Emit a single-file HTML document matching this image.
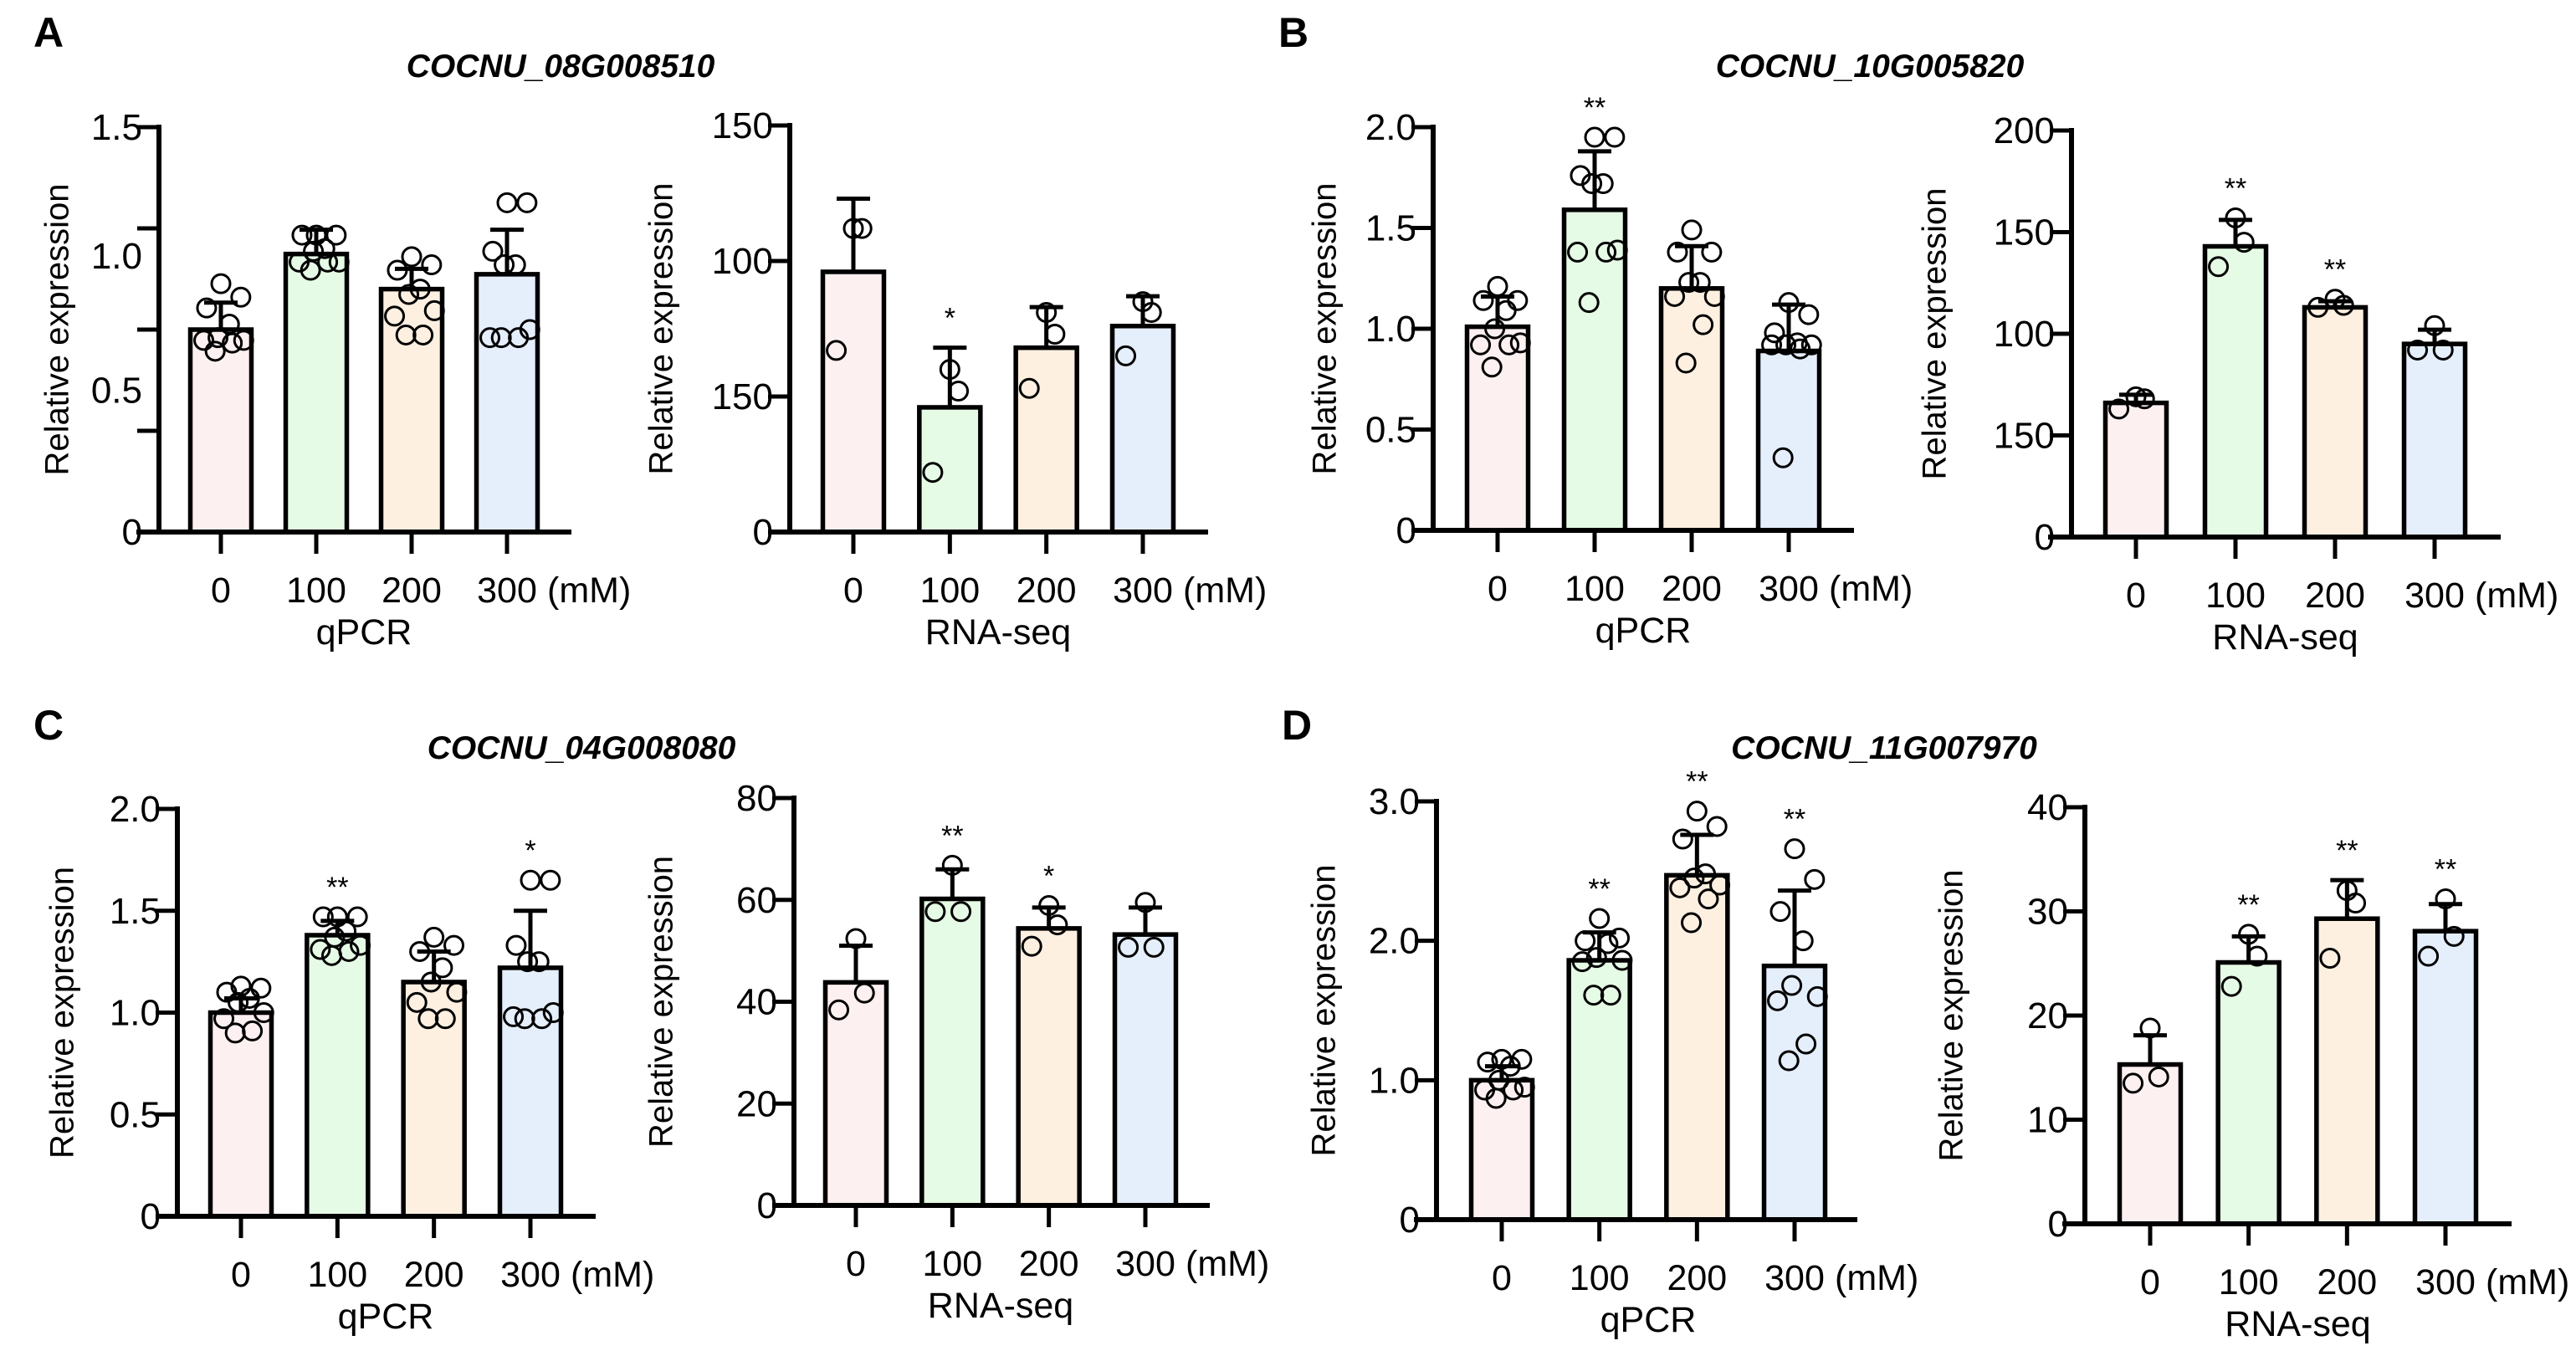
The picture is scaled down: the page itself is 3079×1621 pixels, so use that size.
<!DOCTYPE html>
<html><head><meta charset="utf-8">
<style>
html,body{margin:0;padding:0;background:#fff;}
svg{display:block;font-family:"Liberation Sans",Arial,sans-serif;}
</style></head>
<body>
<svg id="fig" width="3079" height="1621" viewBox="0 0 3079 1621" xmlns="http://www.w3.org/2000/svg">
<text x="40" y="56" font-size="50" font-weight="bold">A</text>
<text x="1528" y="56" font-size="50" font-weight="bold">B</text>
<text x="40" y="884" font-size="50" font-weight="bold">C</text>
<text x="1532" y="884" font-size="50" font-weight="bold">D</text>
<text x="670" y="92" font-size="39" font-weight="bold" font-style="italic" text-anchor="middle">COCNU_08G008510</text>
<text x="2235" y="92" font-size="39" font-weight="bold" font-style="italic" text-anchor="middle">COCNU_10G005820</text>
<text x="695" y="907" font-size="39" font-weight="bold" font-style="italic" text-anchor="middle">COCNU_04G008080</text>
<text x="2252" y="907" font-size="39" font-weight="bold" font-style="italic" text-anchor="middle">COCNU_11G007970</text>
</svg>
<script>
// ---- data ----
const categories = ["0","100","200","300"];
const aQMeans = [0.75,1.03,0.90,0.955];
const aQErr = [0.85,1.12,0.975,1.12];
const aQPts = [[0.92,0.87,0.83,0.77,0.72,0.71,0.71,0.70,0.67],[1.10,1.10,1.10,1.05,1.04,1.0,1.0,1.0,0.97],[1.02,0.99,0.97,0.90,0.88,0.82,0.80,0.73,0.73],[1.22,1.22,1.04,0.99,0.99,0.75,0.72,0.72,0.72]];
const aQStars = ["","","",""];
const aQTicks = [0,0.375,0.75,1.125,1.5];
const aQLabelVals = [0,0.525,1.023,1.5];
const aQLabels = ["0","0.5","1.0","1.5"];

const aRMeans = [96,46,68,76];
const aRErr = [123,68,83,87];
const aRPts = [[112,112,67],[60,52,22],[81,73,53],[85,81,65]];
const aRStars = ["","*","",""];
const aRTicks = [0,50,100,150];
const aRLabels = ["0","150","100","150"];

const bQMeans = [1.01,1.59,1.20,0.89];
const bQErr = [1.16,1.88,1.41,1.12];
const bQPts = [[1.21,1.14,1.14,1.09,1.0,0.93,0.92,0.92,0.81],[1.95,1.95,1.76,1.72,1.72,1.39,1.38,1.38,1.13],[1.49,1.38,1.38,1.23,1.23,1.16,1.16,1.02,0.83],[1.13,1.07,0.98,0.93,0.92,0.92,0.92,0.90,0.36]];
const bQStars = ["","**","",""];
const bQTicks = [0,0.5,1.0,1.5,2.0];
const bQLabels = ["0","0.5","1.0","1.5","2.0"];

const bRMeans = [66,143,113,95];
const bRErr = [70,156,116,102];
const bRPts = [[69,68,63],[157,145,133],[117,114,113],[104,92,92]];
const bRStars = ["","**","**",""];
const bRTicks = [0,50,100,150,200];
const bRLabels = ["0","150","100","150","200"];

const cQMeans = [1.0,1.38,1.15,1.22];
const cQErr = [1.07,1.45,1.30,1.50];
const cQPts = [[1.13,1.12,1.10,1.07,1.05,1.0,0.97,0.91,0.90],[1.47,1.47,1.47,1.40,1.37,1.33,1.31,1.30,1.28],[1.37,1.33,1.30,1.22,1.15,1.10,1.05,0.97,0.97],[1.65,1.65,1.33,1.25,1.25,1.0,0.98,0.97,0.97]];
const cQStars = ["","**","","*"];
const cQTicks = [0,0.5,1.0,1.5,2.0];
const cQLabels = ["0","0.5","1.0","1.5","2.0"];

const cRMeans = [43.8,60.2,54.4,53.2];
const cRErr = [51,66,58.5,58.5];
const cRPts = [[52.4,41.7,38.4],[66.8,57.7,57.7],[58.9,55.1,50.9],[59.5,50.7,50.7]];
const cRStars = ["","**","*",""];
const cRTicks = [0,20,40,60,80];
const cRLabels = ["0","20","40","60","80"];

const dQMeans = [1.0,1.86,2.47,1.82];
const dQErr = [1.1,2.06,2.76,2.36];
const dQPts = [[1.15,1.15,1.13,1.1,1.0,0.95,0.93,0.93,0.87],[2.16,2.02,2.0,1.98,1.88,1.86,1.85,1.61,1.61],[2.93,2.82,2.73,2.48,2.45,2.40,2.38,2.30,2.13],[2.66,2.44,2.21,2.0,1.68,1.6,1.57,1.26,1.14]];
const dQStars = ["","**","**","**"];
const dQTicks = [0,1.0,2.0,3.0];
const dQLabels = ["0","1.0","2.0","3.0"];

const dRMeans = [15.3,25.1,29.3,28.1];
const dRErr = [18.1,27.6,33,30.7];
const dRPts = [[18.8,14.1,13.5],[27.8,25.7,22.8],[32,30.8,25.5],[31.2,27.6,25.7]];
const dRStars = ["","**","**","**"];
const dRTicks = [0,10,20,30,40];
const dRLabels = ["0","10","20","30","40"];

// ---- layout ----
const fills = ["#fdf0f1","#e6fbe6","#fdf0e1","#e5eefb"];
const NS = "http://www.w3.org/2000/svg";
const svg = document.getElementById('fig');
function mk(tag, attrs, parent){const e=document.createElementNS(NS,tag);for(const k in attrs)e.setAttribute(k,attrs[k]);(parent||svg).appendChild(e);return e;}

function panel(id, L){
  const g = mk('g',{});
  
  
  const y = v => L.y0 - (v/L.max)*(L.y0-L.yTop);
  const step = (L.cat3-L.cat0)/3;
  const x = i => L.cat0 + i*step;
  const bw = 73;
  L.means.forEach((m,i)=>{
    const eb = mk('line',{x1:x(i),x2:x(i),y1:y(m),y2:y(L.err[i]),stroke:'#000','stroke-width':5},g);
    
    
    const cap = mk('line',{x1:x(i)-20,x2:x(i)+20,y1:y(L.err[i]),y2:y(L.err[i]),stroke:'#000','stroke-width':5},g);
    
    
    const r = mk('rect',{x:x(i)-bw/2,y:y(m),width:bw,height:L.y0-y(m),fill:fills[i],stroke:'#000','stroke-width':5.5},g);
    
    
    const pts = L.pts[i];
    pts.forEach((p,j)=>{
      const n = pts.length;
      const off = n>1 ? (j%2===0?-1:1)*((j*7)%n)/(n)*bw*0.42 : 0;
      const c = mk('circle',{cx:x(i)+off,cy:y(p),r:11,fill:'none',stroke:'#000','stroke-width':3},g);
      
      
    });
    if(L.stars[i]){
      const topV = Math.max(L.err[i], ...pts);
      const s = mk('text',{x:x(i),y:y(topV)-24,'font-size':34,'text-anchor':'middle'},g);
      s.textContent = L.stars[i];
      
      
    }
  });
  const ya = mk('line',{x1:L.ax,x2:L.ax,y1:L.yTop-3,y2:L.y0+3,stroke:'#000','stroke-width':6},g);
  
  
  const xa = mk('line',{x1:L.xl,x2:L.xr,y1:L.y0,y2:L.y0,stroke:'#000','stroke-width':6},g);
  
  
  L.ticks.forEach(t=>{
    const tk = mk('line',{x1:L.ax-26,x2:L.ax,y1:y(t),y2:y(t),stroke:'#000','stroke-width':5},g);
    
    
  });
  const lv = L.labelVals || L.ticks;
  L.labels.forEach((lab,k)=>{
    const t = mk('text',{x:L.ax-20,y:y(lv[k])+15,'font-size':44,'text-anchor':'end'},g);
    t.textContent = lab;
    
    
  });
  categories.forEach((c,i)=>{
    const tk = mk('line',{x1:x(i),x2:x(i),y1:L.y0,y2:L.y0+26,stroke:'#000','stroke-width':5},g);
    
    
    const t = mk('text',{x:x(i),y:L.y0+84,'font-size':43,'text-anchor':'middle'},g);
    t.textContent = c;
    
    
  });
  const mm = mk('text',{x:x(3)+48,y:L.y0+84,'font-size':43},g);
  mm.textContent = '(mM)';
  
  
  const xt = mk('text',{x:(x(0)+x(3))/2,y:L.y0+134,'font-size':43,'text-anchor':'middle'},g);
  xt.textContent = L.kind;
  
  
  const yc = (L.yTop+L.y0)/2;
  const yt = mk('text',{x:L.ytx,y:yc,'font-size':40,'text-anchor':'middle',transform:`rotate(-90 ${L.ytx} ${yc})`,'dominant-baseline':'middle'},g);
  yt.textContent = 'Relative expression';
  
  
}

panel('chart-a-qpcr',{kind:'qPCR',means:aQMeans,err:aQErr,pts:aQPts,stars:aQStars,ticks:aQTicks,labels:aQLabels,labelVals:aQLabelVals,max:1.5,ax:190,yTop:152,y0:636,xl:163,xr:683,cat0:264,cat3:606,ytx:71});
panel('chart-a-rnaseq',{kind:'RNA-seq',means:aRMeans,err:aRErr,pts:aRPts,stars:aRStars,ticks:aRTicks,labels:aRLabels,max:150,ax:944,yTop:150,y0:636,xl:918,xr:1444,cat0:1020,cat3:1366,ytx:793});
panel('chart-b-qpcr',{kind:'qPCR',means:bQMeans,err:bQErr,pts:bQPts,stars:bQStars,ticks:bQTicks,labels:bQLabels,max:2,ax:1713,yTop:152,y0:634,xl:1688,xr:2216,cat0:1790,cat3:2138,ytx:1586});
panel('chart-b-rnaseq',{kind:'RNA-seq',means:bRMeans,err:bRErr,pts:bRPts,stars:bRStars,ticks:bRTicks,labels:bRLabels,max:200,ax:2476,yTop:156,y0:642,xl:2448,xr:2989,cat0:2553,cat3:2910,ytx:2315});
panel('chart-c-qpcr',{kind:'qPCR',means:cQMeans,err:cQErr,pts:cQPts,stars:cQStars,ticks:cQTicks,labels:cQLabels,max:2,ax:212,yTop:967,y0:1454,xl:186,xr:712,cat0:288,cat3:634,ytx:77});
panel('chart-c-rnaseq',{kind:'RNA-seq',means:cRMeans,err:cRErr,pts:cRPts,stars:cRStars,ticks:cRTicks,labels:cRLabels,max:80,ax:949,yTop:954,y0:1441,xl:923,xr:1446,cat0:1023,cat3:1369,ytx:793});
panel('chart-d-qpcr',{kind:'qPCR',means:dQMeans,err:dQErr,pts:dQPts,stars:dQStars,ticks:dQTicks,labels:dQLabels,max:3,ax:1717,yTop:958,y0:1458,xl:1690,xr:2220,cat0:1795,cat3:2145,ytx:1585});
panel('chart-d-rnaseq',{kind:'RNA-seq',means:dRMeans,err:dRErr,pts:dRPts,stars:dRStars,ticks:dRTicks,labels:dRLabels,max:40,ax:2492,yTop:965,y0:1463,xl:2465,xr:3002,cat0:2570,cat3:2923,ytx:2335});
</script>
</body></html>
